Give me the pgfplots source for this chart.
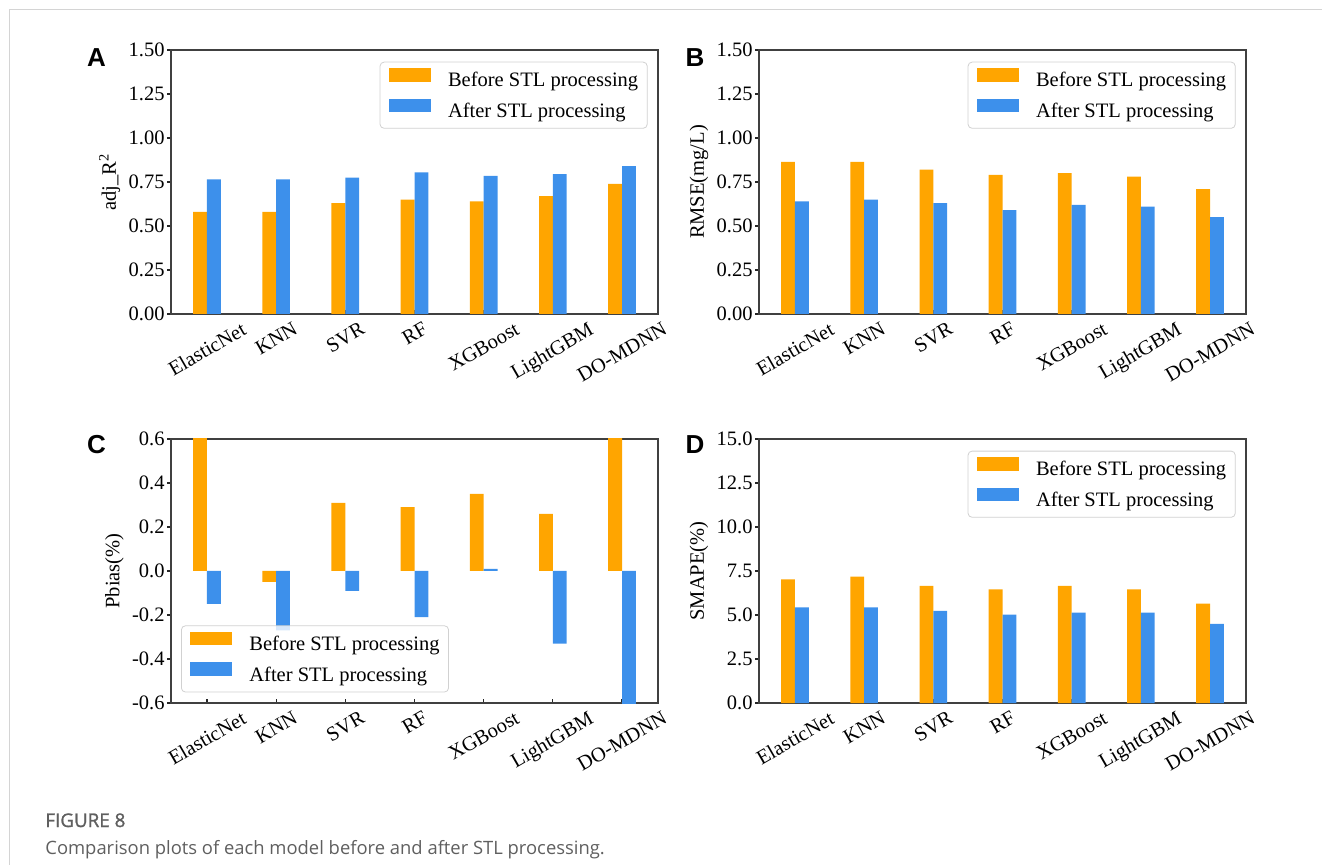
\documentclass[border=0pt]{standalone}
\usepackage{fontspec}
\setmainfont{Liberation Serif}
\newfontfamily\capfont{Open Sans}
\newfontfamily\capfontb{Open Sans}[FakeBold=1.2]
\newfontfamily\letterfont{Liberation Sans}
\usepackage{pgfplots}
\pgfplotsset{compat=1.18}
\definecolor{borange}{RGB}{255,165,0}
\definecolor{bblue}{RGB}{61,144,235}
\definecolor{framegray}{RGB}{212,212,212}
\definecolor{capgray}{RGB}{95,95,95}
\newcommand{\fs}{\fontsize{10.25}{12}\selectfont}
\pgfplotsset{
  panel/.style={
    width=243.5pt, height=132pt, scale only axis,
    xmin=-0.52, xmax=6.52,
    xtick={0,1,2,3,4,5,6},
    xticklabels={\rotatebox{30}{ElasticNet},\rotatebox{30}{KNN},\rotatebox{30}{SVR},\rotatebox{30}{RF},\rotatebox{30}{XGBoost},\rotatebox{30}{LightGBM},\rotatebox{30}{DO-MDNN}},
    xtick pos=bottom, ytick pos=left,
    xtick align=inside, ytick align=outside,
    major tick length=2pt,
    tick style={black!85, line width=0.6pt},
    axis line style={black!75, line width=0.65pt},
    ticklabel style={font=\fs},
    xticklabel style={anchor=north, inner sep=0pt, yshift=-3.5pt},
    yticklabel style={inner sep=0pt, xshift=-1pt},
    /pgf/number format/assume math mode=true,
    ylabel style={font=\fs, at={(ticklabel cs:0.5)}, anchor=south, inner sep=0pt, yshift=4pt},
    legend cell align=left,
    legend style={draw=black!18, rounded corners=2pt, fill=white, fill opacity=0.8, text opacity=1, draw opacity=1,
      font=\fs, inner xsep=4.5pt, inner ysep=3pt, row sep=3.5pt, column sep=8.5pt,
      nodes={inner sep=0pt, text height=7.5pt, text depth=2.5pt}},
  },
  legNE/.style={legend style={at={(rel axis cs:1,1)}, anchor=north east, xshift=-5.2pt, yshift=-5.85pt}},
  legSW/.style={legend style={at={(rel axis cs:0,0)}, anchor=south west, xshift=5pt, yshift=5.3pt}},
  bbefore/.style={ybar, bar width=0.2, bar shift=-0.1, draw=none, fill=borange,
    legend image code/.code={\fill[borange, fill opacity=1, sharp corners] (0pt,0pt) rectangle (21pt,6.8pt);}},
  bafter/.style={ybar, bar width=0.2, bar shift=0.1, draw=none, fill=bblue,
    legend image code/.code={\fill[bblue, fill opacity=1, sharp corners] (0pt,0pt) rectangle (21pt,6.8pt);}},
}
\begin{document}
\begin{tikzpicture}
\useasboundingbox (0,0) rectangle (661pt,-432.5pt);
\draw[framegray, line width=0.5pt] (4.65pt,-432.5pt) -- (4.65pt,-4.65pt) -- (661pt,-4.65pt);

% A
\begin{axis}[panel, legNE, at={(85.5pt,-157pt)}, anchor=south west,
  ymin=0, ymax=1.5, ytick={0,0.25,0.5,0.75,1,1.25,1.5},
  yticklabel style={/pgf/number format/.cd, fixed, fixed zerofill, precision=2},
  ylabel={adj\_R\textsuperscript{2}}]
\addplot[bbefore] coordinates {(0,0.58) (1,0.58) (2,0.63) (3,0.65) (4,0.64) (5,0.67) (6,0.74)};
\addplot[bafter] coordinates {(0,0.765) (1,0.765) (2,0.775) (3,0.805) (4,0.785) (5,0.795) (6,0.84)};
\legend{Before STL processing, After STL processing}
\end{axis}

% B
\begin{axis}[panel, legNE, at={(379.5pt,-157pt)}, anchor=south west,
  ymin=0, ymax=1.5, ytick={0,0.25,0.5,0.75,1,1.25,1.5},
  yticklabel style={/pgf/number format/.cd, fixed, fixed zerofill, precision=2},
  ylabel={RMSE(mg/L)}]
\addplot[bbefore] coordinates {(0,0.865) (1,0.865) (2,0.82) (3,0.79) (4,0.80) (5,0.78) (6,0.71)};
\addplot[bafter] coordinates {(0,0.64) (1,0.65) (2,0.63) (3,0.59) (4,0.62) (5,0.61) (6,0.55)};
\legend{Before STL processing, After STL processing}
\end{axis}

% C
\begin{axis}[panel, legSW, at={(85.5pt,-351.5pt)}, anchor=south west,
  ymin=-0.6, ymax=0.6, ytick={-0.6,-0.4,-0.2,0,0.2,0.4,0.6},
  yticklabel style={/pgf/number format/.cd, fixed, fixed zerofill, precision=1},
  ylabel={Pbias(\%)}]
\addplot[bbefore] coordinates {(0,0.65) (1,-0.05) (2,0.31) (3,0.29) (4,0.35) (5,0.26) (6,0.65)};
\addplot[bafter] coordinates {(0,-0.15) (1,-0.27) (2,-0.09) (3,-0.21) (4,0.01) (5,-0.33) (6,-0.65)};
\legend{Before STL processing, After STL processing}
\end{axis}

% D
\begin{axis}[panel, legNE, at={(379.5pt,-351.5pt)}, anchor=south west,
  ymin=0, ymax=15, ytick={0,2.5,5,7.5,10,12.5,15},
  yticklabel style={/pgf/number format/.cd, fixed, fixed zerofill, precision=1},
  ylabel={SMAPE(\%)}]
\addplot[bbefore] coordinates {(0,7.02) (1,7.18) (2,6.65) (3,6.45) (4,6.65) (5,6.45) (6,5.65)};
\addplot[bafter] coordinates {(0,5.43) (1,5.43) (2,5.23) (3,5.02) (4,5.13) (5,5.13) (6,4.5)};
\legend{Before STL processing, After STL processing}
\end{axis}

\node[font=\letterfont\bfseries\fontsize{13}{14}\selectfont, inner sep=0pt] at (48.25pt,-28.75pt) {A};
\node[font=\letterfont\bfseries\fontsize{13}{14}\selectfont, inner sep=0pt] at (347.5pt,-28.75pt) {B};
\node[font=\letterfont\bfseries\fontsize{13}{14}\selectfont, inner sep=0pt] at (48.25pt,-222.5pt) {C};
\node[font=\letterfont\bfseries\fontsize{13}{14}\selectfont, inner sep=0pt] at (347.5pt,-222.5pt) {D};

\node[anchor=base west, inner sep=0pt, text=capgray, font=\capfontb\fontsize{9.4}{10}\selectfont] at (22.5pt,-413.5pt) {FIGURE 8};
\node[anchor=base west, inner sep=0pt, text=capgray, font=\capfont\fontsize{9.2}{10}\selectfont] at (22.5pt,-427pt) {Comparison plots of each model before and after STL processing.};
\end{tikzpicture}
\end{document}
